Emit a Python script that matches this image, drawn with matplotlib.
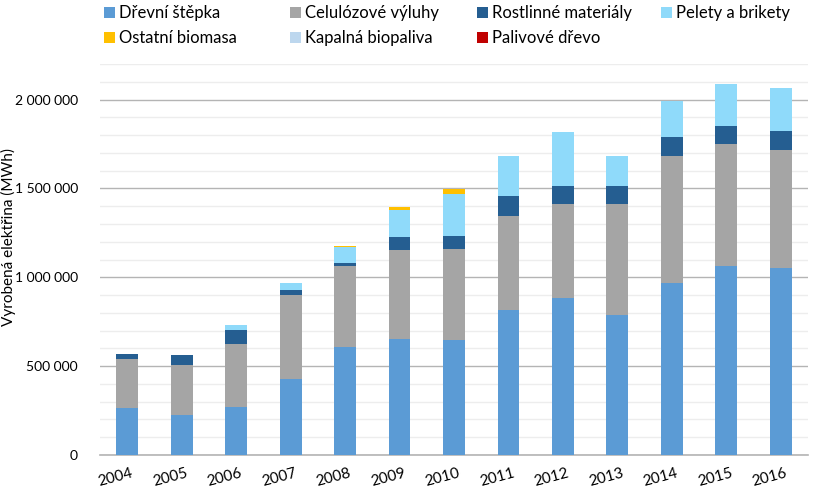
import numpy as np
import matplotlib
matplotlib.use("Agg")
import matplotlib.pyplot as plt
from matplotlib.patches import Rectangle
from matplotlib.ticker import FuncFormatter, MultipleLocator
from matplotlib.transforms import ScaledTranslation

plt.rcParams['font.family'] = ['Lato', 'DejaVu Sans']

# ---------------------------------------------------------------
# Data (MWh)
# ---------------------------------------------------------------
years = ["2004", "2005", "2006", "2007", "2008", "2009", "2010",
         "2011", "2012", "2013", "2014", "2015", "2016"]

drevni_stepka = [266000, 225000, 272000, 428000, 607000, 652000, 645000,
                 818000, 884000, 789000, 970000, 1066000, 1052000]
celulozove_vyluhy = [275000, 280000, 353000, 473000, 454000, 501000, 514000,
                     528000, 530000, 621000, 714000, 686000, 666000]
rostlinne_materialy = [26000, 55000, 79000, 25000, 22000, 71000, 71000,
                       109000, 101000, 102000, 104000, 98000, 107000]
pelety_brikety = [0, 3000, 28000, 41000, 87000, 156000, 240000,
                  229000, 301000, 171000, 202000, 236000, 238000]
ostatni_biomasa = [0, 0, 0, 0, 5000, 13000, 27000,
                   0, 0, 0, 0, 0, 0]
kapalna_biopaliva = [0, 0, 0, 0, 0, 0, 0,
                     0, 0, 0, 0, 0, 0]
palivove_drevo = [0, 0, 0, 0, 0, 0, 0,
                  0, 2000, 2000, 3000, 3000, 2000]

series = [
    ("Dřevní štěpka", drevni_stepka, "#5B9BD5"),
    ("Celulózové výluhy", celulozove_vyluhy, "#A5A5A5"),
    ("Rostlinné materiály", rostlinne_materialy, "#255E91"),
    ("Pelety a brikety", pelety_brikety, "#8FDAFA"),
    ("Ostatní biomasa", ostatni_biomasa, "#FFC000"),
    ("Kapalná biopaliva", kapalna_biopaliva, "#BDD7EE"),
    ("Palivové dřevo", palivove_drevo, "#C00000"),
]

W, H = 813, 494
fig = plt.figure(figsize=(W / 100, H / 100), dpi=100)
ax = fig.add_axes([100 / W, 39 / H, 708 / W, 391 / H])

x = np.arange(len(years))
bottom = np.zeros(len(years))
for name, vals, col in series:
    vals = np.array(vals, dtype=float)
    ax.bar(x, vals, width=0.4, bottom=bottom, color=col, zorder=3)
    bottom += vals

ax.set_xlim(-0.5, len(years) - 0.5)
ax.set_ylim(0, 2200000)
ax.yaxis.set_major_locator(MultipleLocator(500000))
ax.yaxis.set_minor_locator(MultipleLocator(100000))
ax.yaxis.set_major_formatter(FuncFormatter(
    lambda v, p: f"{int(v):,}".replace(",", " ")))

ax.grid(which="major", axis="y", color="#B4B4B4", lw=1.0, zorder=1)
ax.grid(which="minor", axis="y", color="#EDEDED", lw=1.0, zorder=0)
ax.set_axisbelow(True)

for s in ["top", "right", "left"]:
    ax.spines[s].set_visible(False)
ax.spines["bottom"].set_color("#B4B4B4")
ax.spines["bottom"].set_linewidth(1.2)

ax.tick_params(axis="y", which="both", length=0, labelsize=10,
               colors="#000000", pad=16)
ax.tick_params(axis="x", length=0, labelsize=11, pad=8)
ax.set_xticks(x)
ax.set_xticklabels(years, rotation=15, ha="right", rotation_mode="anchor")
shift = ScaledTranslation(4 / 100, 0, fig.dpi_scale_trans)
for lab in ax.get_xticklabels():
    lab.set_transform(lab.get_transform() + shift)

ax.set_ylabel("Vyrobená elektřina (MWh)", fontsize=11)
ax.yaxis.set_label_coords(-0.119, 0.557)

# ---------------------------------------------------------------
# Legenda (ručně, 2 řádky x 4 sloupce)
# ---------------------------------------------------------------
col_x = [104, 290, 477, 661]
row_y = [13, 38]
msize = 11
for i, (name, _, col) in enumerate(series):
    cx = col_x[i % 4]
    cy = row_y[i // 4]
    fig.patches.append(Rectangle(((cx) / W, (H - cy - msize / 2) / H),
                                 msize / W, msize / H, facecolor=col,
                                 edgecolor="none", transform=fig.transFigure))
    fig.text((cx + msize + 4) / W, (H - cy) / H, name, fontsize=12,
             va="center", ha="left")

fig.savefig("out.png", dpi=100)
